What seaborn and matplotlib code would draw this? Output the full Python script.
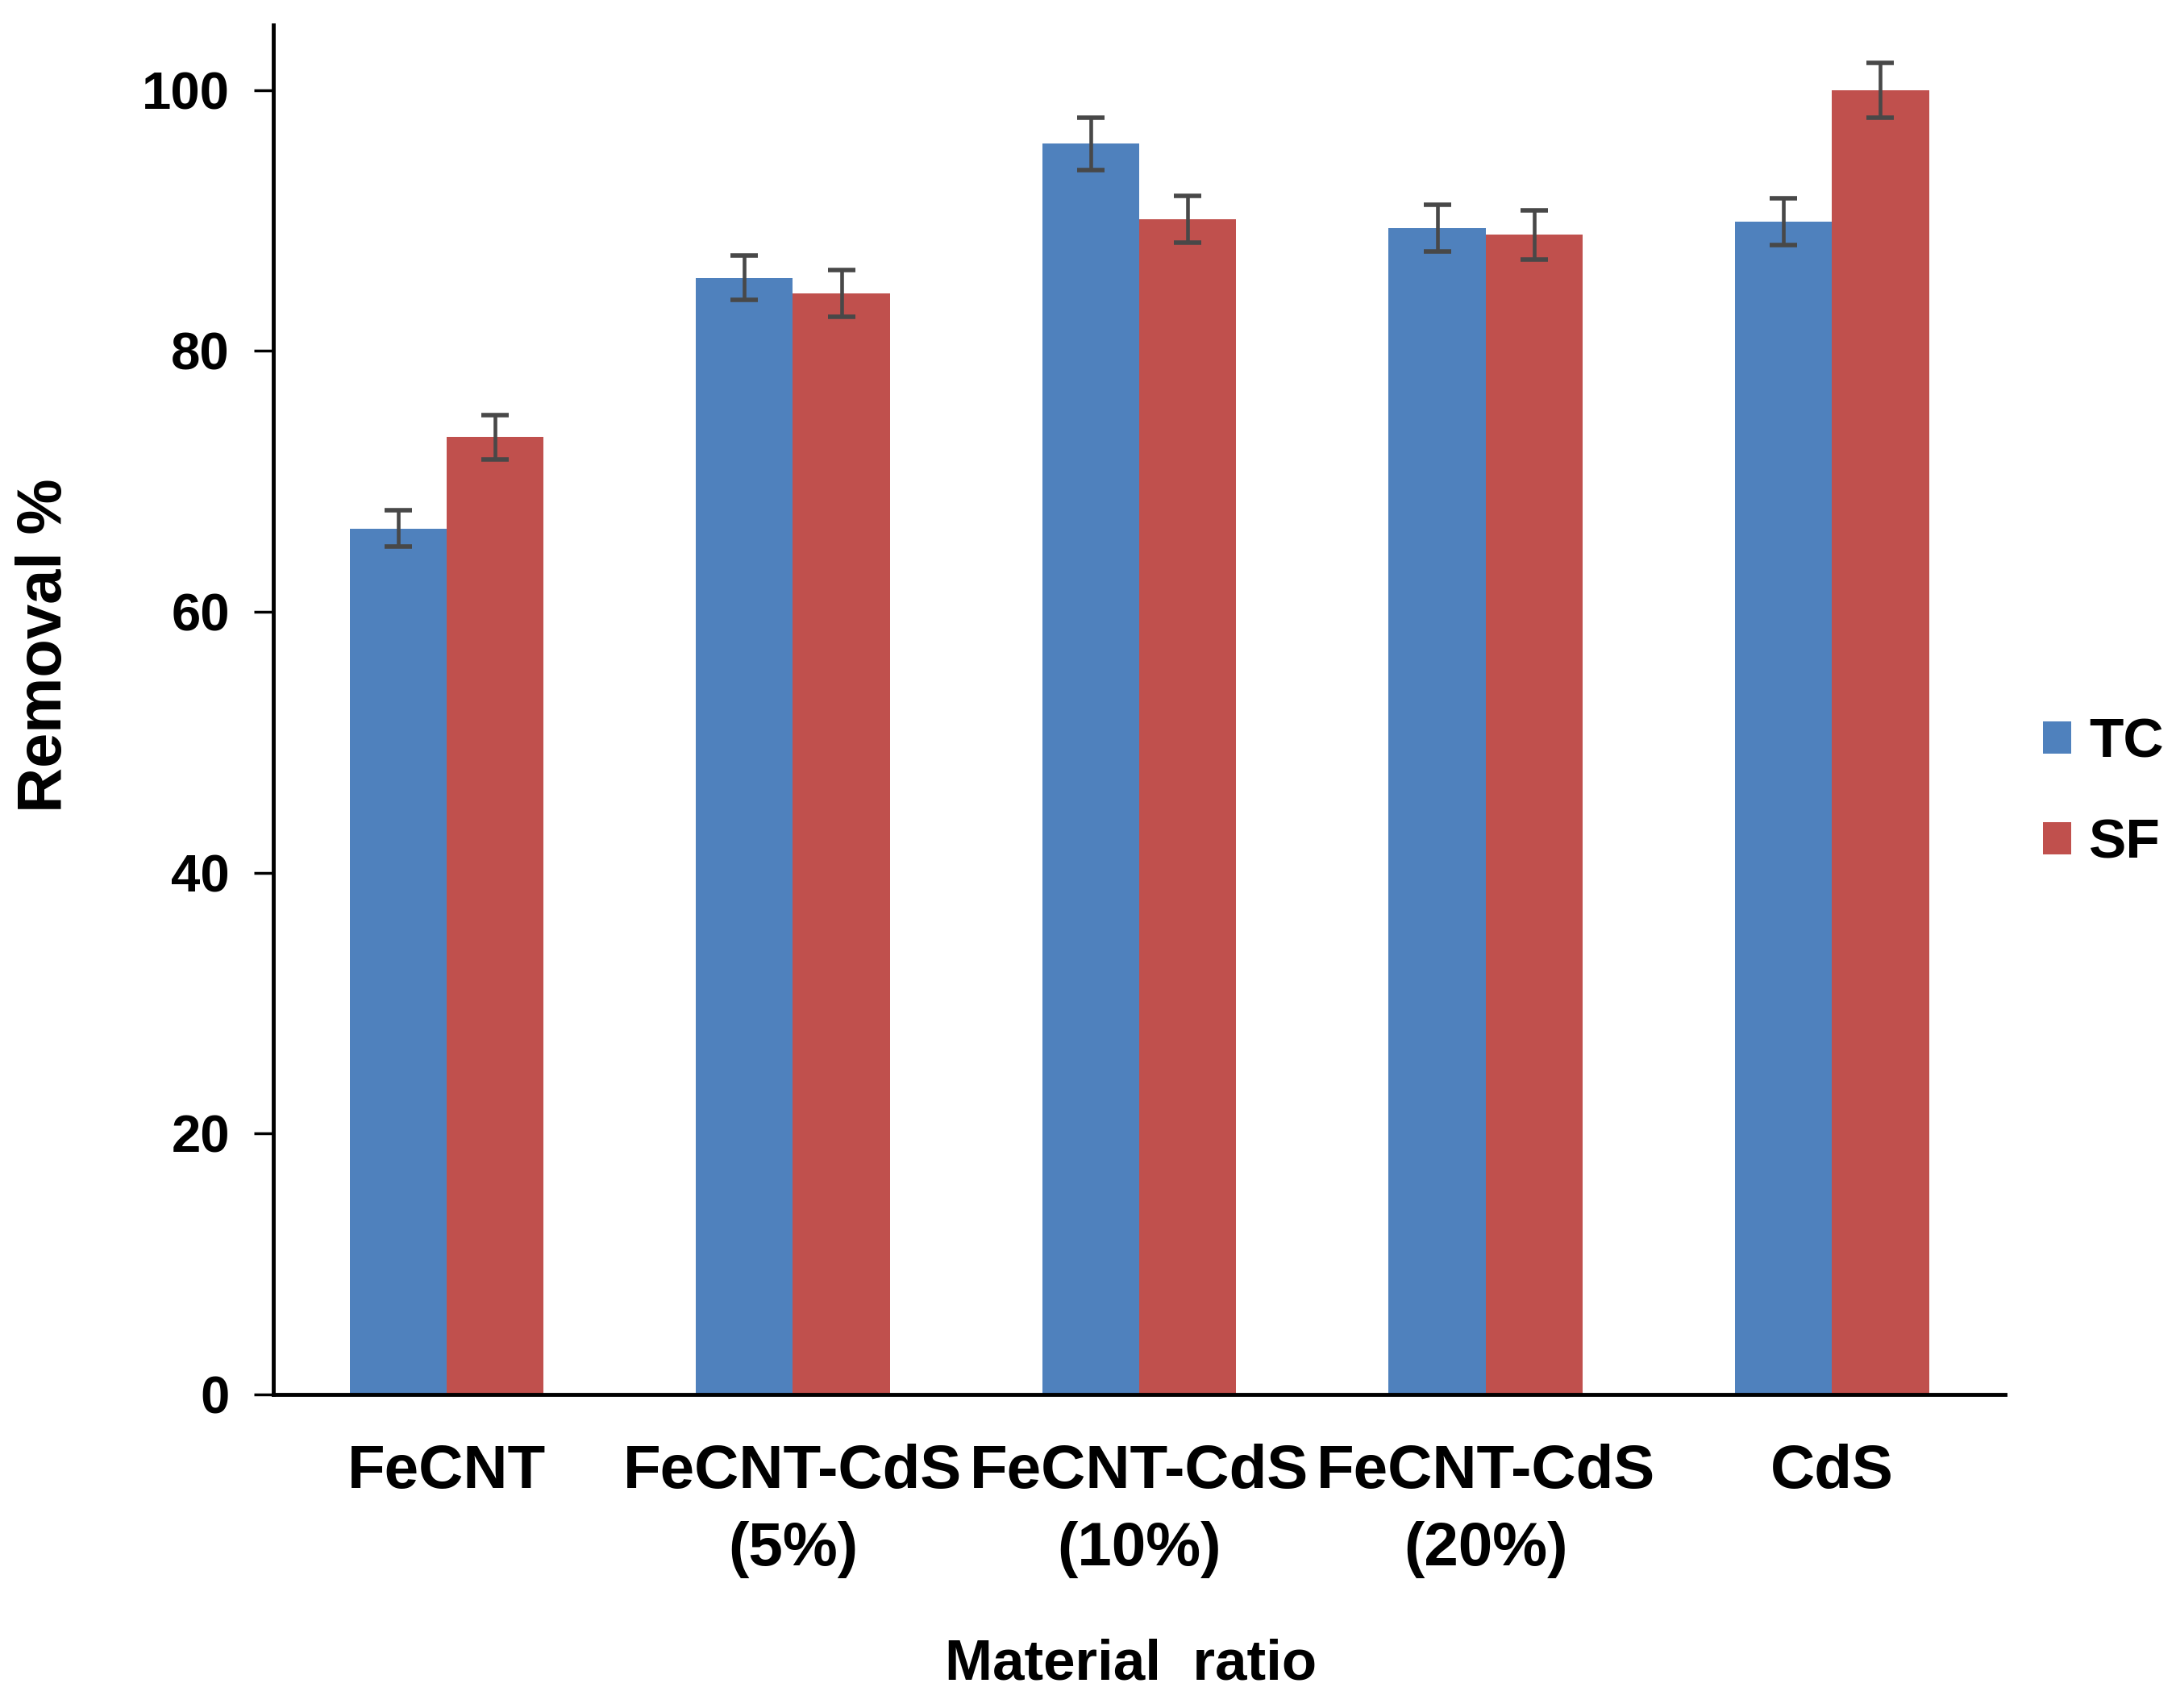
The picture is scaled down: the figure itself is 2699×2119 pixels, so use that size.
import pandas as pd
import matplotlib
matplotlib.use("Agg")
import matplotlib.pyplot as plt
import seaborn as sns
import numpy as np

materials = ['FeCNT', 'FeCNT-CdS\n(5%)', 'FeCNT-CdS\n(10%)', 'FeCNT-CdS\n(20%)', 'CdS']
tc_removal = [66.4, 85.6, 95.9, 89.4, 89.9]
sf_removal = [73.4, 84.4, 90.1, 88.9, 100.0]
tc_err = [1.4, 1.7, 2.0, 1.8, 1.8]
sf_err = [1.7, 1.8, 1.8, 1.9, 2.1]
series = ['TC', 'SF']

df = pd.DataFrame({
    'material': materials * 2,
    'removal': tc_removal + sf_removal,
    'err': tc_err + sf_err,
    'series': ['TC'] * 5 + ['SF'] * 5,
})

sns.set_style('white')
plt.rcParams['font.family'] = ['Liberation Sans', 'DejaVu Sans']
plt.rcParams['font.weight'] = 'bold'
plt.rcParams['text.color'] = 'black'
plt.rcParams['axes.labelcolor'] = 'black'
plt.rcParams['xtick.color'] = 'black'
plt.rcParams['ytick.color'] = 'black'

fig = plt.figure(figsize=(26.99, 21.19), dpi=100)
ax = fig.add_axes([0.1256, 0.1836, 0.7959, 0.8018])

colors = {'TC': '#4F81BD', 'SF': '#C0504D'}
sns.barplot(data=df, x='material', y='removal', hue='series', hue_order=series,
            palette=colors, width=0.56, errorbar=None, saturation=1,
            edgecolor='none', linewidth=0, ax=ax)

# error bars at the centre of each bar
for s, cont in zip(series, ax.containers):
    sub = df[df['series'] == s]
    xs = [p.get_x() + p.get_width() / 2 for p in cont.patches]
    ax.errorbar(xs, sub['removal'], yerr=sub['err'], fmt='none',
                ecolor='#484848', elinewidth=3.3, capsize=12, capthick=4)

ax.set_ylim(0, 105)
ax.set_xlim(-0.5, 4.5)
ax.set_yticks(range(0, 101, 20))
for sp in ['top', 'right']:
    ax.spines[sp].set_visible(False)
for sp in ['left', 'bottom']:
    ax.spines[sp].set_linewidth(3.5)
    ax.spines[sp].set_color('black')

ax.tick_params(axis='y', which='major', direction='out', length=17, width=2.5,
               pad=22, labelsize=47, left=True)
ax.tick_params(axis='x', length=0, pad=44, labelsize=55)
for lab in ax.get_xticklabels():
    lab.set_linespacing(1.45)
    lab.set_fontweight('bold')
for lab in ax.get_yticklabels():
    lab.set_fontweight('bold')

ax.set_xlabel('Material  ratio', fontsize=51, fontweight='bold')
ax.set_ylabel('Removal %', fontsize=56, fontweight='bold')
ax.xaxis.set_label_coords(0.495, -0.178)
ax.yaxis.set_label_coords(-0.115, 0.547)

handles, labels = ax.get_legend_handles_labels()
ax.legend(handles, labels, loc='center left', bbox_to_anchor=(0.9388, 0.5355),
          bbox_transform=fig.transFigure, frameon=False,
          borderpad=0, borderaxespad=0,
          handlelength=0.5, handleheight=0.5, handletextpad=0.32,
          labelspacing=0.88, prop={'weight': 'bold', 'size': 50})

fig.savefig('out.png', dpi=100, facecolor='white')
